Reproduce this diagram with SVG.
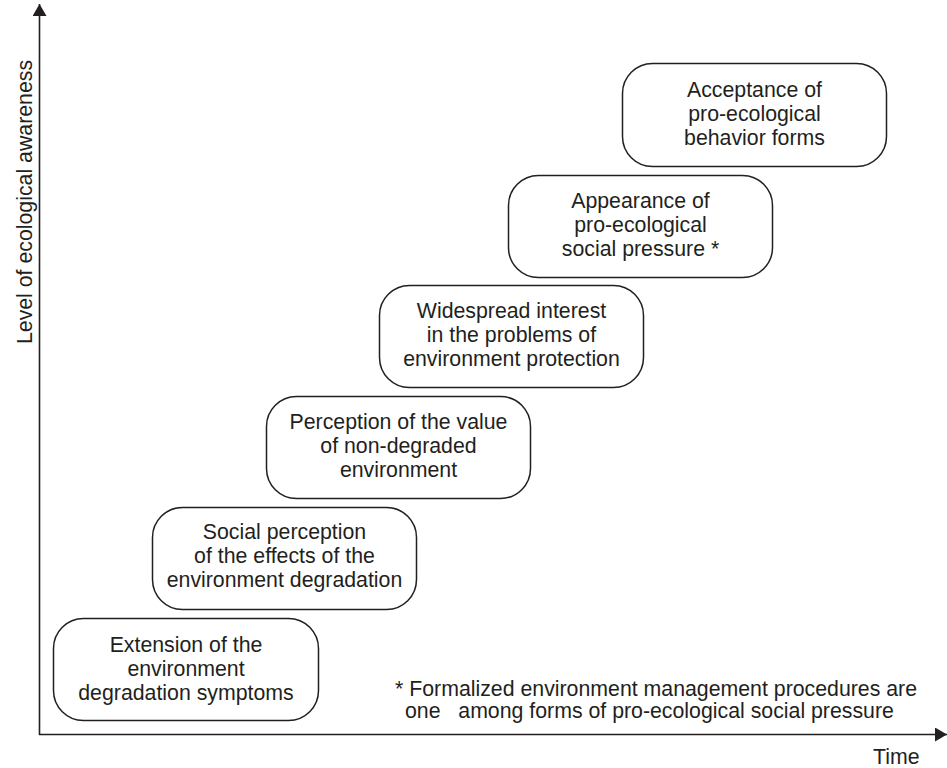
<svg xmlns="http://www.w3.org/2000/svg" width="947" height="768" viewBox="0 0 947 768">
  <style>
    .box { fill: #ffffff; stroke: #231f20; stroke-width: 1.5; }
    .lbl { font-family: "Liberation Sans", Arial, sans-serif; font-size: 21.3px; fill: #231f20; text-anchor: middle; }
    .note { font-family: "Liberation Sans", Arial, sans-serif; font-size: 21.3px; fill: #231f20; white-space: pre; }
    .axis { stroke: #231f20; stroke-width: 1.6; fill: none; }
  </style>
  <defs>
    <marker id="arrow" markerUnits="userSpaceOnUse" viewBox="0 0 12 14" refX="12" refY="7" markerWidth="12" markerHeight="14" orient="auto">
      <path d="M0,0 L12,7 L0,14 Z" fill="#231f20"/>
    </marker>
  </defs>
  <rect width="947" height="768" fill="#ffffff"/>

  <!-- axes -->
  <g id="connectors">
    <line class="axis" x1="39.5" y1="735" x2="39.5" y2="4" marker-end="url(#arrow)"/>
    <line class="axis" x1="39" y1="734.5" x2="947" y2="734.5" marker-end="url(#arrow)"/>
  </g>

  <text class="lbl" transform="translate(32,202) rotate(-90)">Level of ecological awareness</text>
  <text class="note" x="873" y="764">Time</text>

  <!-- stages -->
  <g id="stage1">
    <rect class="box" x="53.5" y="618.5" width="265" height="102" rx="30"/>
    <text class="lbl" x="186" y="652">Extension of the</text>
    <text class="lbl" x="186" y="676">environment</text>
    <text class="lbl" x="186" y="700">degradation symptoms</text>
  </g>
  <g id="stage2">
    <rect class="box" x="152.5" y="507.5" width="264" height="102" rx="30"/>
    <text class="lbl" x="284.5" y="539">Social perception</text>
    <text class="lbl" x="284.5" y="563">of the effects of the</text>
    <text class="lbl" x="284.5" y="587">environment degradation</text>
  </g>
  <g id="stage3">
    <rect class="box" x="266.5" y="396.5" width="264" height="102" rx="30"/>
    <text class="lbl" x="398.5" y="429">Perception of the value</text>
    <text class="lbl" x="398.5" y="453">of non-degraded</text>
    <text class="lbl" x="398.5" y="477">environment</text>
  </g>
  <g id="stage4">
    <rect class="box" x="379.5" y="285.5" width="264" height="102" rx="30"/>
    <text class="lbl" x="511.5" y="318">Widespread interest</text>
    <text class="lbl" x="511.5" y="342">in the problems of</text>
    <text class="lbl" x="511.5" y="366">environment protection</text>
  </g>
  <g id="stage5">
    <rect class="box" x="508.5" y="175.5" width="264" height="102" rx="30"/>
    <text class="lbl" x="640.5" y="208">Appearance of</text>
    <text class="lbl" x="640.5" y="232">pro-ecological</text>
    <text class="lbl" x="640.5" y="256">social pressure *</text>
  </g>
  <g id="stage6">
    <rect class="box" x="622.5" y="63.5" width="264" height="103" rx="30"/>
    <text class="lbl" x="754.5" y="97">Acceptance of</text>
    <text class="lbl" x="754.5" y="121">pro-ecological</text>
    <text class="lbl" x="754.5" y="145">behavior forms</text>
  </g>

  <!-- footnote -->
  <g id="footnote">
    <text class="note" x="395" y="696">* Formalized environment management procedures are</text>
    <text class="note" x="405" y="718" xml:space="preserve">one   among forms of pro-ecological social pressure</text>
  </g>
</svg>
